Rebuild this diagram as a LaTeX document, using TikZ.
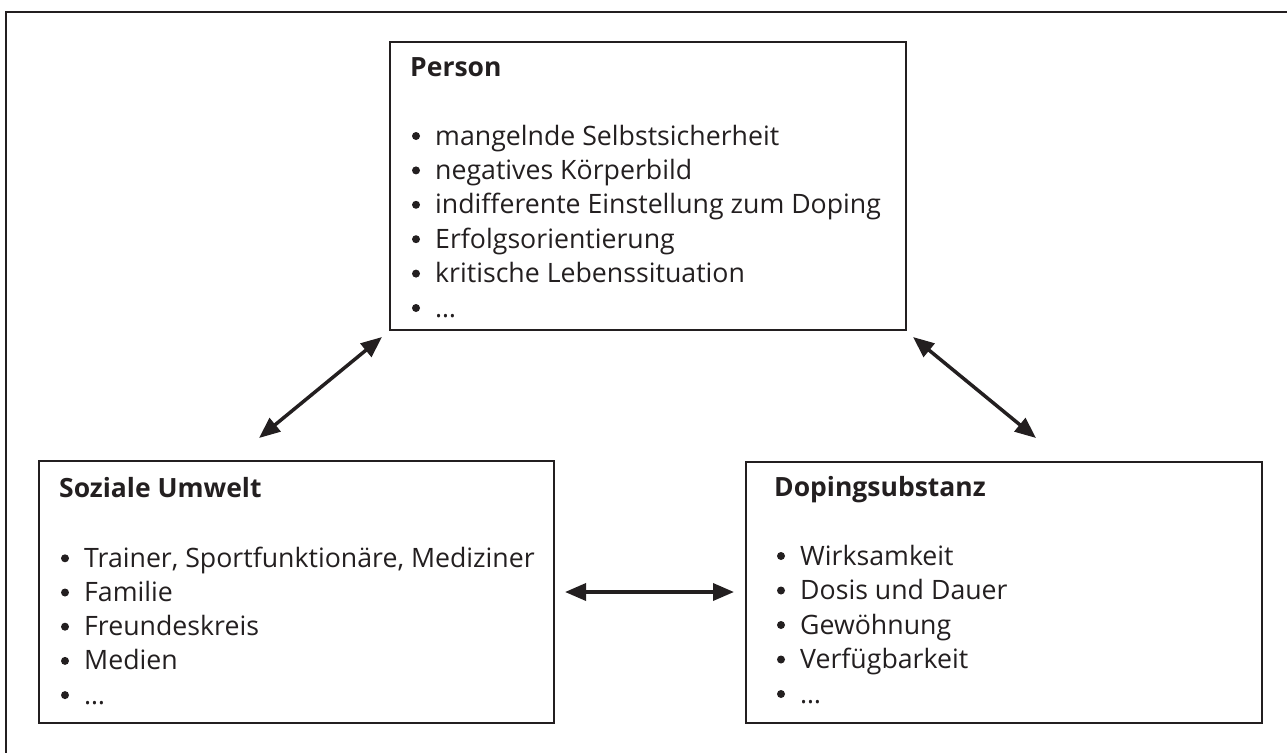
\documentclass[tikz,border=0pt]{standalone}
\usepackage{fontspec}
\setmainfont{Open Sans}
\usetikzlibrary{arrows.meta}
\definecolor{ink}{HTML}{231F20}
\begin{document}
\begin{tikzpicture}[x=1pt,y=-1pt,
  box/.style={draw=ink, line width=2pt, rectangle, inner sep=0pt, anchor=north west},
  boxtitle/.style={anchor=base west, inner sep=0pt, text=ink, font=\fontsize{26.5}{31}\selectfont\bfseries},
  item/.style={anchor=base west, inner sep=0pt, text=ink, font=\fontsize{26.7}{32}\selectfont},
  bul/.style={circle, fill=ink, minimum size=8pt, inner sep=0pt},
  link/.style={draw=ink, line width=3.5pt, {Triangle[length=21pt,width=17pt]}-{Triangle[length=21pt,width=17pt]}}
]
\useasboundingbox (0,0) rectangle (1287,752);
% outer frame (cropped on right and bottom)
\draw[ink, line width=2.5pt] (6,760) -- (6,12) -- (1295,12);

% boxes
\node[box, minimum width=516pt, minimum height=288pt] (person) at (389,41) {};
\node[box, minimum width=515pt, minimum height=262pt] (sozial) at (38,460) {};
\node[box, minimum width=516pt, minimum height=261pt] (doping) at (745,461) {};

% Person
\node[boxtitle] (persont) at (410,76) {Person};
\foreach \t [count=\i] in {mangelnde Selbstsicherheit, negatives Körperbild, indifferente Einstellung zum Doping, Erfolgsorientierung, kritische Lebenssituation, …}{
  \node[bul] (pb\i) at (416,136+34.4*\i-34.4) {};
  \node[item] (pi\i) at (435,145+34.4*\i-34.4) {\t};
}

% Soziale Umwelt
\node[boxtitle] (sozialt) at (59,497) {Soziale Umwelt};
\foreach \t [count=\i] in {{Trainer, Sportfunktionäre, Mediziner}, Familie, Freundeskreis, Medien, …}{
  \node[bul] (sb\i) at (65,558.3+34.2*\i-34.2) {};
  \node[item] (si\i) at (84,567.3+34.2*\i-34.2) {\t};
}

% Dopingsubstanz
\node[boxtitle] (dopingt) at (774,496) {Dopingsubstanz};
\foreach \t [count=\i] in {Wirksamkeit, Dosis und Dauer, Gewöhnung, Verfügbarkeit, …}{
  \node[bul] (db\i) at (781,556+34.5*\i-34.5) {};
  \node[item] (di\i) at (800,565+34.5*\i-34.5) {\t};
}

% connectors
\coordinate (a1s) at (259,438);
\coordinate (a1e) at (382,337);
\coordinate (a2s) at (913,337);
\coordinate (a2e) at (1036,438);
\coordinate (a3s) at (565,592);
\coordinate (a3e) at (734,592);
\draw[link] (a1s) -- (a1e);
\draw[link] (a2s) -- (a2e);
\draw[link] (a3s) -- (a3e);
\end{tikzpicture}
\end{document}
